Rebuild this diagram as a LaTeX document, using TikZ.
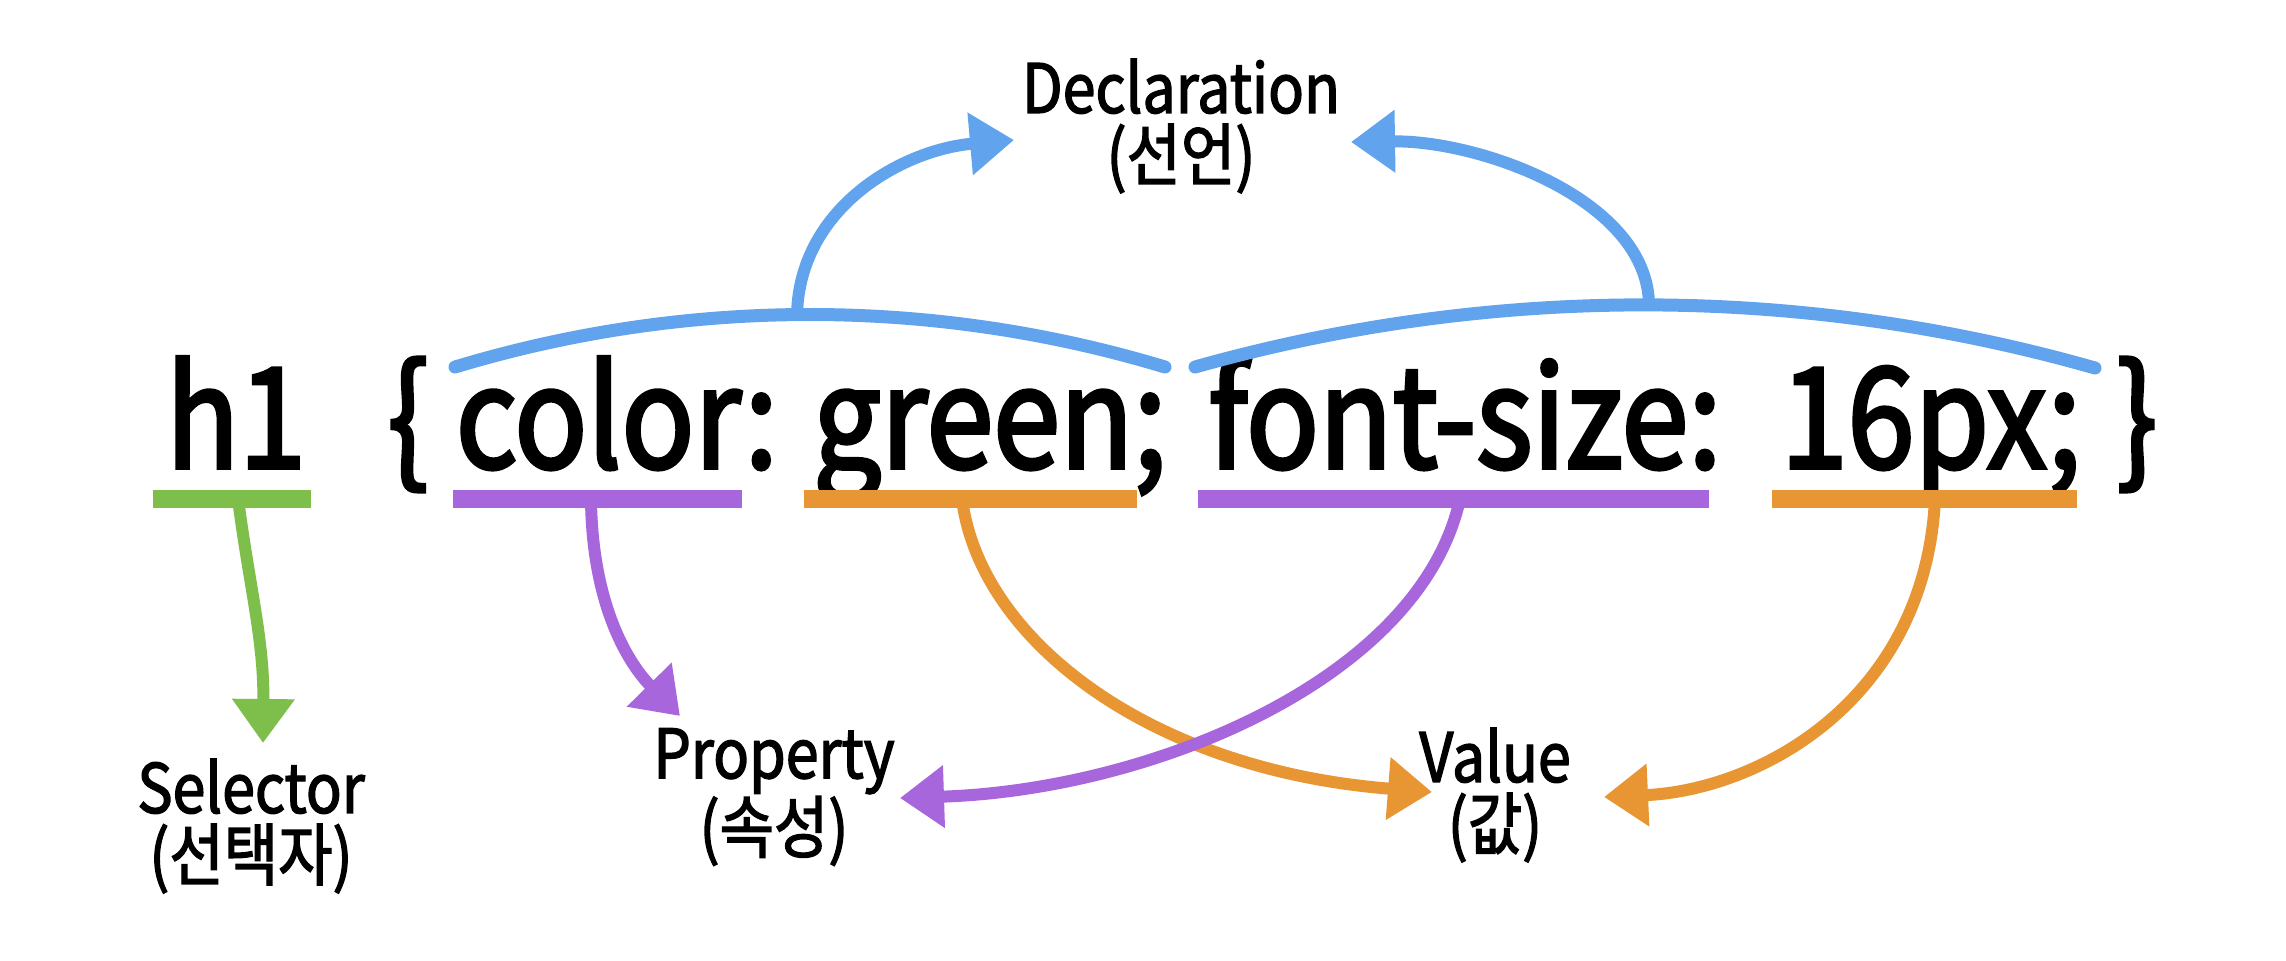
\documentclass[tikz,border=0pt]{standalone}
\usepackage{fontspec}
\setmainfont{Noto Sans CJK KR}
\newfontfamily\codefont{Noto Sans CJK KR}[FakeStretch=0.86, FakeBold=2.5]
\newfontfamily\lblfont{Noto Sans CJK KR}[FakeStretch=0.87, FakeBold=2]
\usetikzlibrary{arrows.meta}
\definecolor{blueC}{HTML}{62A3EE}
\definecolor{greenC}{HTML}{7EBF4C}
\definecolor{purpleC}{HTML}{A866DD}
\definecolor{orangeC}{HTML}{E79633}
\begin{document}
\begin{tikzpicture}[x=0.5pt,y=-0.5pt,
  code/.style={font=\codefont\fontsize{70}{72}\selectfont, anchor=base, inner sep=0pt},
  lbl/.style={font=\lblfont\fontsize{34}{33.5}\selectfont, align=center, inner sep=0pt},
  uline/.style={line width=9pt},
  arcline/.style={line width=6.5pt, line cap=round},
  conn/.style={line width=6pt, -{Triangle[length=22pt,width=30pt]}}]
\useasboundingbox[fill=white] (0,0) rectangle (2286,960);

% code line
\node[code] (h1) at (236,468) {h1};
\node[code] (ob) at (408,468) {\{};
\node[code] (prop1) at (617,468) {color:};
\node[code] (val1) at (990,468) {green;};
\node[code] (prop2) at (1465,468) {font-size:};
\node[code] (val2) at (1931,468) {16px;};
\node[code] (cb) at (2137,468) {\}};

% labels
\node[lbl] (decl) at (1181,126) {Declaration\\(선언)};
\node[lbl] (sel) at (251,826) {Selector\\(선택자)};
\node[lbl] (prop) at (774,797) {Property\\(속성)};
\node[lbl] (val) at (1495,795) {Value\\(값)};

% underlines
\draw[uline,greenC] (153,499) -- (311,499);
\draw[uline,purpleC] (453,499) -- (742,499);
\draw[uline,orangeC] (804,499) -- (1137,499);
\draw[uline,purpleC] (1198,499) -- (1709,499);
\draw[uline,orangeC] (1772,499) -- (2077,499);

% declaration arcs
\draw[arcline,blueC] (455,367) .. controls (687,297) and (933,297) .. (1165,367);
\draw[arcline,blueC] (1195,367) .. controls (1490,284) and (1800,284) .. (2095,368);

% connector anchors
\coordinate (sS) at (238,499);
\coordinate (p1S) at (591,499);
\coordinate (v1S) at (962,499);
\coordinate (p2S) at (1460,499);
\coordinate (v2S) at (1935,499);
\coordinate (d1S) at (797,318);
\coordinate (d2S) at (1649,306);
\coordinate (selT) at (263,743);
\coordinate (propT1) at (680,716);
\coordinate (propT2) at (900,798);
\coordinate (valT1) at (1432,792);
\coordinate (valT2) at (1604,797);
\coordinate (declT1) at (1014,140);
\coordinate (declT2) at (1351,142);

% connectors
\draw[conn,greenC] (sS) .. controls (250,590) and (264,640) .. (selT);
\draw[conn,purpleC] (p1S) .. controls (592,600) and (625,660) .. (propT1);
\draw[conn,orangeC] (v1S) .. controls (980,640) and (1150,770) .. (valT1);
\draw[conn,purpleC] (p2S) .. controls (1420,680) and (1150,790) .. (propT2);
\draw[conn,orangeC] (v2S) .. controls (1925,700) and (1760,790) .. (valT2);
\draw[conn,blueC] (d1S) .. controls (797,210) and (900,150) .. (declT1);
\draw[conn,blueC] (d2S) .. controls (1649,200) and (1480,140) .. (declT2);
\end{tikzpicture}
\end{document}
